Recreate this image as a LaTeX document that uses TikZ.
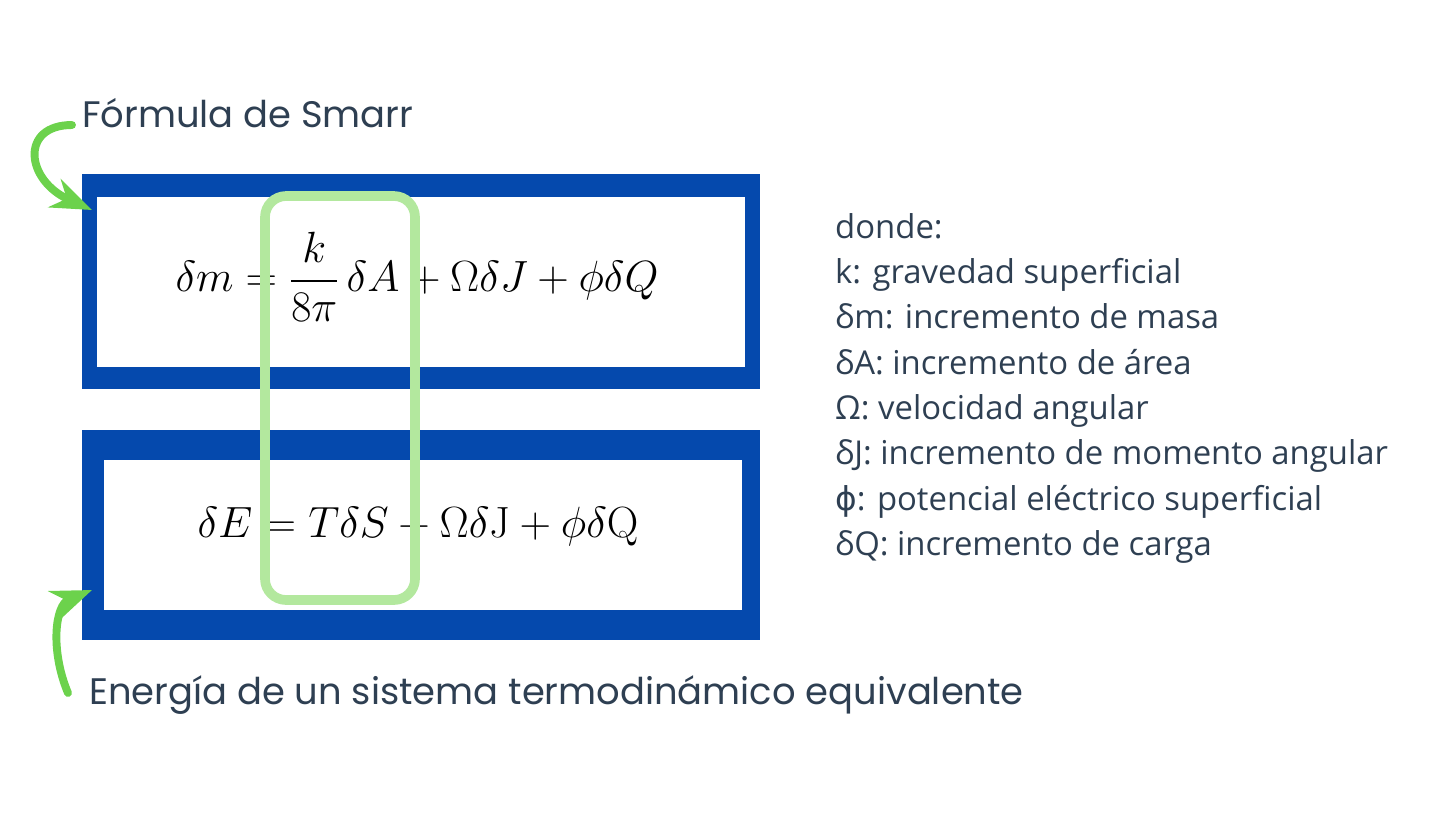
\documentclass[tikz,border=0pt]{standalone}
\usepackage{amsmath}
\usepackage[no-math]{fontspec}
\setmainfont{Open Sans}
\newfontfamily\popfont{Poppins}
\newfontfamily\symfont{DejaVu Sans}
\usetikzlibrary{arrows.meta}
\definecolor{slate}{HTML}{2E3F52}
\definecolor{boxblue}{HTML}{0549AD}
\definecolor{lightgreen}{HTML}{B3E89E}
\definecolor{arrowgreen}{HTML}{6CD24C}
\begin{document}
\begin{tikzpicture}[x=0.02cm, y=-0.02cm, >=Stealth,
  heading/.style={anchor=west, text=slate, font=\popfont\fontsize{21}{25}\selectfont},
  legend/.style={anchor=north west, text=slate, align=left, font=\fontsize{18.7}{25.8}\selectfont},
  formula/.style={font=\fontsize{34.5}{40}\selectfont},
  pointer/.style={->, arrowgreen, line width=4.5pt, line cap=round}]

\useasboundingbox (0,0) rectangle (1456,819);

% Boxes
\fill[boxblue] (82,174) rectangle (760,389);
\fill[white] (97,197) rectangle (745,367);
\fill[boxblue] (82,430) rectangle (760,640);
\fill[white] (104,460) rectangle (742,610);

% Formulas
\node[formula] (smarr) at (417,277) {$\delta m = \dfrac{k}{8\pi}\,\delta A + \Omega\delta J + \phi\delta Q$};
\node[formula] (energy) at (418,527) {$\delta E = T\delta S + \Omega\delta\mathrm{J} + \phi\delta\mathrm{Q}$};

% Highlight
\draw[lightgreen, line width=5.5pt, rounded corners=12pt] (265,196) rectangle (415,600);

% Labels
\node[heading] (title) at (76,113) {Fórmula de Smarr};
\node[heading] (label) at (83,695) {Energía de un sistema termodinámico equivalente};
\node[legend] (key) at (829,207) {donde:\\k: gravedad superficial\\δm: incremento de masa\\δA: incremento de área\\Ω: velocidad angular\\δJ: incremento de momento angular\\{\symfont ϕ}: potencial eléctrico superficial\\δQ: incremento de carga};

% Arrows
\draw[pointer] (72,125) .. controls (20,125) and (25,180) .. (92,210);
\draw[pointer] (68,693) .. controls (50,650) and (55,605) .. (92,590);

\end{tikzpicture}
\end{document}
